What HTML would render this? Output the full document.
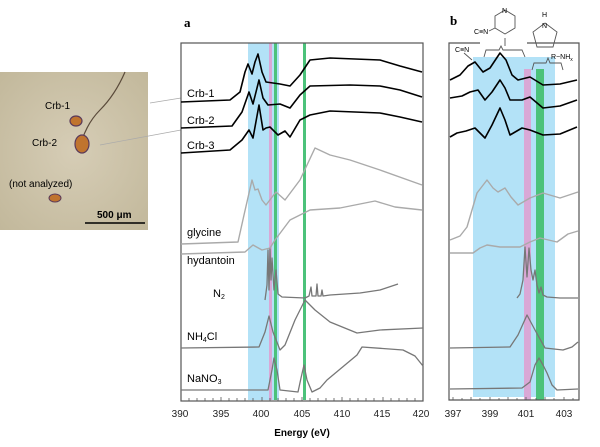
<!DOCTYPE html>
<html><head><meta charset="utf-8"><style>
body{margin:0;background:#fff;}
svg{display:block;font-family:"Liberation Sans",sans-serif;}
</style></head><body>
<svg width="600" height="447" viewBox="0 0 600 447" xmlns="http://www.w3.org/2000/svg">
<defs>
<radialGradient id="pg" cx="50%" cy="50%" r="70%"><stop offset="0" stop-color="#d6cdb6"/><stop offset="1" stop-color="#c2b89b"/></radialGradient>
</defs>
<rect x="0" y="72" width="148" height="158" fill="url(#pg)"/>
<path d="M125 72 Q115 95 100 110 Q88 122 82 140" stroke="#5a4a3a" stroke-width="1.2" fill="none"/>
<ellipse cx="76" cy="121" rx="6" ry="5" fill="#c0742e" stroke="#5a3a5a" stroke-width="1.2"/>
<ellipse cx="82" cy="144" rx="7" ry="9" fill="#c0742e" stroke="#5a3a5a" stroke-width="1.2"/>
<ellipse cx="55" cy="198" rx="6" ry="4" fill="#c0742e" stroke="#5a3a5a" stroke-width="1"/>
<text x="45" y="109" font-size="10">Crb-1</text>
<text x="32" y="146" font-size="10">Crb-2</text>
<text x="9" y="187" font-size="10">(not analyzed)</text>
<text x="97" y="218" font-size="10" font-weight="bold">500 μm</text>
<line x1="85" y1="223" x2="145" y2="223" stroke="#000" stroke-width="1.5"/>
<line x1="150" y1="103" x2="181" y2="98" stroke="#aaa" stroke-width="0.7"/>
<line x1="100" y1="145" x2="181" y2="130" stroke="#aaa" stroke-width="0.7"/>

<text x="184" y="27" font-family="Liberation Serif,serif" font-weight="bold" font-size="13">a</text>
<rect x="248" y="43" width="31" height="357" fill="#b3e2f7"/>
<rect x="269" y="43" width="3" height="357" fill="#d9a8d6"/>
<rect x="274" y="43" width="3" height="357" fill="#4cc27a"/>
<rect x="303" y="43" width="3" height="357" fill="#4cc27a"/>
<rect x="181" y="43" width="242" height="358" fill="none" stroke="#555" stroke-width="1.2"/>
<g fill="none" stroke-linejoin="round">
<path d="M181 102 L230 100 L240 92 L245 72 L248 64 L252 74 L255 62 L258 54 L262 72 L266 82 L280 84 L290 86 L300 75 L310 60 L330 58 L380 60 L400 66 L422 72" stroke="#000" stroke-width="1.6"/>
<path d="M181 128 L232 126 L242 112 L249 92 L253 104 L259 80 L263 98 L268 105 L280 104 L290 108 L300 95 L310 86 L350 85 L380 86 L400 90 L422 97" stroke="#000" stroke-width="1.6"/>
<path d="M181 153 L230 150 L242 140 L249 130 L253 138 L259 105 L263 130 L266 128 L270 127 L278 135 L285 131 L290 137 L300 120 L310 115 L330 111 L380 113 L400 117 L422 122" stroke="#000" stroke-width="1.6"/>
<path d="M181 244 L238 242 L244 215 L252 180 L255 190 L258 189 L262 200 L266 205 L276 192 L285 200 L300 180 L315 148 L330 155 L350 160 L380 170 L422 185" stroke="#aaa" stroke-width="1.4"/>
<path d="M181 254 L245 252 L253 245 L262 250 L270 248 L275 240 L290 220 L310 210 L340 208 L375 201 L395 207 L422 210" stroke="#aaa" stroke-width="1.4"/>
<path d="M265 300 L267 285 L268 250 L269 290 L270 249 L271 280 L272 258 L274 290 L276 270 L278 294 L282 297 L305 298 L309 296 L311 287 L312 296 L316 296 L317 284 L318 296 L321 296 L322 290 L323 296 L330 295 L360 293 L380 290 L398 284" stroke="#777" stroke-width="1.3"/>
<path d="M181 348 L259 347 L265 332 L269 316 L273 332 L280 350 L285 345 L295 320 L305 300 L315 310 L330 322 L357 333 L380 330 L423 328" stroke="#777" stroke-width="1.3"/>
<path d="M181 390 L268 390 L272 370 L274 358 L277 370 L280 390 L298 392 L301 378 L304 365 L307 380 L312 392 L320 388 L327 380 L345 365 L357 355 L362 347 L403 350 L415 356 L423 366" stroke="#777" stroke-width="1.3"/>
</g>
<text x="187" y="97" font-size="11">Crb-1</text>
<text x="187" y="124" font-size="11">Crb-2</text>
<text x="187" y="149" font-size="11">Crb-3</text>
<text x="187" y="236" font-size="11">glycine</text>
<text x="187" y="264" font-size="11">hydantoin</text>
<text x="213" y="297" font-size="11">N<tspan font-size="7" dy="2">2</tspan></text>
<text x="187" y="340" font-size="11">NH<tspan font-size="7" dy="2">4</tspan><tspan dy="-2">Cl</tspan></text>
<text x="187" y="382" font-size="11">NaNO<tspan font-size="7" dy="2">3</tspan></text>
<g stroke="#555" stroke-width="0.8">
<line x1="181" y1="401" x2="181" y2="397"/><line x1="189" y1="401" x2="189" y2="398"/><line x1="197" y1="401" x2="197" y2="398"/><line x1="205" y1="401" x2="205" y2="398"/><line x1="213" y1="401" x2="213" y2="398"/><line x1="221" y1="401" x2="221" y2="397"/><line x1="229" y1="401" x2="229" y2="398"/><line x1="237" y1="401" x2="237" y2="398"/><line x1="245" y1="401" x2="245" y2="398"/><line x1="253" y1="401" x2="253" y2="398"/><line x1="262" y1="401" x2="262" y2="397"/><line x1="270" y1="401" x2="270" y2="398"/><line x1="278" y1="401" x2="278" y2="398"/><line x1="286" y1="401" x2="286" y2="398"/><line x1="294" y1="401" x2="294" y2="398"/><line x1="302" y1="401" x2="302" y2="397"/><line x1="310" y1="401" x2="310" y2="398"/><line x1="318" y1="401" x2="318" y2="398"/><line x1="326" y1="401" x2="326" y2="398"/><line x1="334" y1="401" x2="334" y2="398"/><line x1="342" y1="401" x2="342" y2="397"/><line x1="350" y1="401" x2="350" y2="398"/><line x1="358" y1="401" x2="358" y2="398"/><line x1="366" y1="401" x2="366" y2="398"/><line x1="374" y1="401" x2="374" y2="398"/><line x1="383" y1="401" x2="383" y2="397"/><line x1="391" y1="401" x2="391" y2="398"/><line x1="399" y1="401" x2="399" y2="398"/><line x1="407" y1="401" x2="407" y2="398"/><line x1="415" y1="401" x2="415" y2="398"/>
</g>
<g font-size="10" text-anchor="middle" fill="#222">
<text x="180" y="417">390</text><text x="221" y="417">395</text><text x="261" y="417">400</text><text x="302" y="417">405</text><text x="342" y="417">410</text><text x="382" y="417">415</text><text x="421" y="417">420</text>
</g>
<text x="302" y="436" font-size="10" font-weight="bold" text-anchor="middle">Energy (eV)</text>

<text x="450" y="25" font-family="Liberation Serif,serif" font-weight="bold" font-size="13">b</text>
<rect x="473" y="57" width="82" height="340" fill="#b3e2f7"/>
<rect x="524" y="69" width="7" height="331" fill="#d9a8d6"/>
<rect x="536" y="69" width="8" height="331" fill="#4cc27a"/>
<path d="M480 43 L449 43 L449 400 L579 400 L579 43 L527 43" fill="none" stroke="#555" stroke-width="1.2"/>
<g fill="none" stroke="#555" stroke-width="0.9">
<path d="M484 57 L486 50 L499 50 L501 46 L503 50 L522 50 L525 57"/>
<path d="M532 70 L534 63 L546 63 L548 58 L550 63 L561 63 L563 70"/>
<line x1="505" y1="46" x2="505" y2="38"/>
<polygon points="505,10 515,16 515,28 505,34 495,28 495,16"/>
<line x1="495" y1="28" x2="489" y2="31"/>
<polygon points="545,23 557,32 553,47 537,47 533,32"/>
<path d="M464 53 L472 60"/>
</g>
<text x="502" y="13" font-size="7">N</text>
<text x="474" y="34" font-size="7">C≡N</text>
<text x="542" y="17" font-size="7">H</text>
<text x="542" y="28" font-size="7">N</text>
<text x="455" y="52" font-size="7">C≡N</text>
<text x="551" y="59" font-size="7">R−NH<tspan font-size="5" dy="2">x</tspan></text>
<g fill="none" stroke-linejoin="round">
<path d="M450 80 L460 75 L468 66 L475 62 L483 72 L490 68 L500 53 L506 60 L512 75 L518 80 L530 77 L543 85 L560 84 L577 80" stroke="#000" stroke-width="1.6"/>
<path d="M450 98 L462 96 L470 92 L478 90 L485 100 L492 92 L500 80 L505 88 L510 100 L522 100 L530 97 L543 108 L560 106 L577 100" stroke="#000" stroke-width="1.6"/>
<path d="M450 137 L457 133 L466 131 L475 128 L485 138 L492 125 L500 108 L505 120 L510 135 L522 128 L530 130 L543 135 L560 134 L577 127" stroke="#000" stroke-width="1.6"/>
<path d="M450 240 L460 236 L467 227 L472 210 L477 193 L487 180 L493 188 L498 192 L505 188 L511 197 L518 205 L530 198 L543 193 L560 198 L578 192" stroke="#aaa" stroke-width="1.4"/>
<path d="M450 253 L473 253 L480 248 L487 245 L500 247 L520 247 L530 242 L540 238 L557 242 L568 234 L578 231" stroke="#aaa" stroke-width="1.4"/>
<path d="M517 298 L520 294 L523 280 L525 247 L527 277 L529 248 L531 270 L533 280 L535 270 L537 285 L539 293 L541 287 L543 295 L547 297 L560 298 L578 298" stroke="#777" stroke-width="1.3"/>
<path d="M450 348 L510 347 L518 335 L527 315 L535 330 L545 348 L563 350 L572 347 L578 342" stroke="#777" stroke-width="1.3"/>
<path d="M450 389 L522 388 L530 382 L535 365 L539 358 L543 365 L547 373 L552 385 L557 390 L578 389" stroke="#777" stroke-width="1.3"/>
</g>
<g stroke="#555" stroke-width="0.8">
<line x1="453" y1="400" x2="453" y2="397"/><line x1="462" y1="400" x2="462" y2="398"/><line x1="471" y1="400" x2="471" y2="397"/><line x1="480" y1="400" x2="480" y2="398"/><line x1="490" y1="400" x2="490" y2="397"/><line x1="499" y1="400" x2="499" y2="398"/><line x1="508" y1="400" x2="508" y2="397"/><line x1="517" y1="400" x2="517" y2="398"/><line x1="526" y1="400" x2="526" y2="397"/><line x1="536" y1="400" x2="536" y2="398"/><line x1="545" y1="400" x2="545" y2="397"/><line x1="554" y1="400" x2="554" y2="398"/><line x1="564" y1="400" x2="564" y2="397"/><line x1="573" y1="400" x2="573" y2="398"/>
</g>
<g font-size="10" text-anchor="middle" fill="#222">
<text x="453" y="417">397</text><text x="490" y="417">399</text><text x="526" y="417">401</text><text x="564" y="417">403</text>
</g>
</svg>
</body></html>
